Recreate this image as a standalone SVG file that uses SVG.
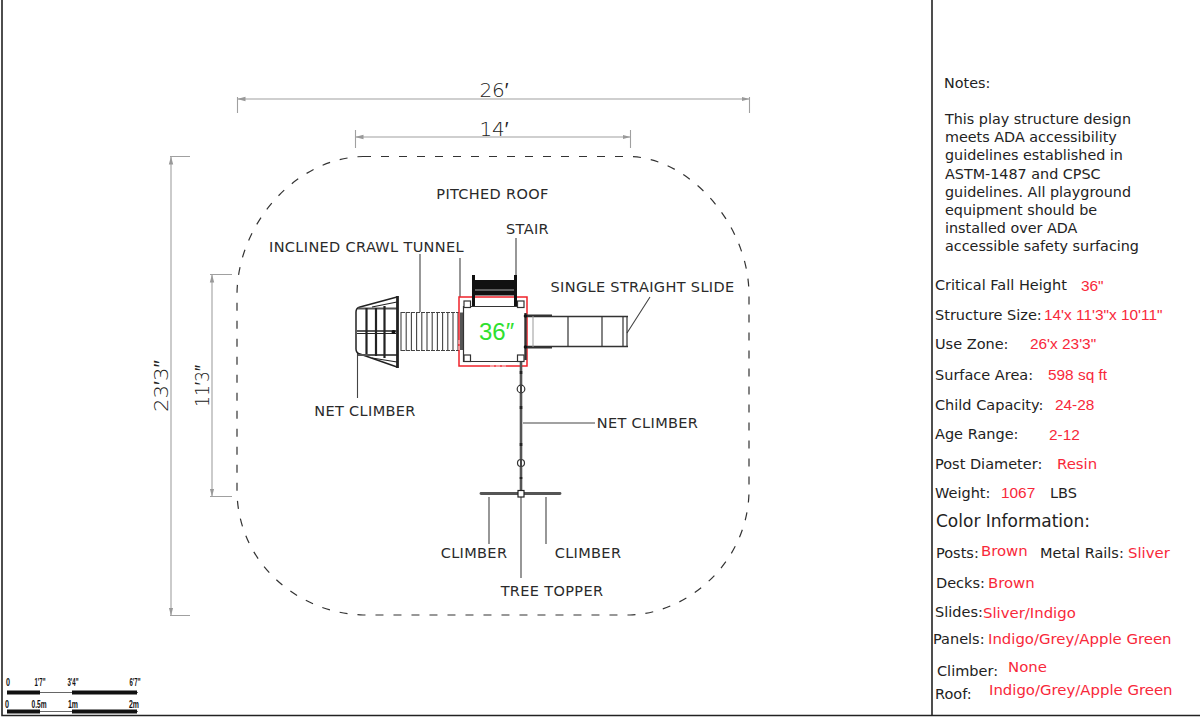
<svg xmlns="http://www.w3.org/2000/svg" width="1200" height="718" viewBox="0 0 1200 718">
<style>
text{fill:#222}
.c{font-family:"DejaVu Sans",sans-serif;font-size:14.500px;letter-spacing:0.350px;text-anchor:middle;fill:#2a2a2a}
.n{font-family:"DejaVu Sans",sans-serif;font-size:14.350px}
.s{font-family:"DejaVu Sans",sans-serif;font-size:14.500px}
text.r{font-family:"DejaVu Sans",sans-serif;font-size:14.900px;fill:#f8283a}
text.d{font-family:"Liberation Sans",sans-serif;font-size:15.400px;fill:#f8283a}
.dim{stroke:#a0a0a0;stroke-width:1.100;fill:none}
.dt{font-family:"DejaVu Sans",sans-serif;font-size:20px;fill:#222;text-anchor:middle;font-weight:200}
.sc{font-family:"Liberation Sans",sans-serif;font-size:10px;font-weight:bold;fill:#111;text-anchor:middle}
</style>
<defs>
<marker id="a" viewBox="0 0 8 6" refX="8" refY="3" markerWidth="8" markerHeight="6" orient="auto-start-reverse" markerUnits="userSpaceOnUse"><path d="M0 0.800L8 3L0 5.200Z" fill="#999"/></marker>
</defs>
<rect width="1200" height="718" fill="#fff"/>
<g id="frame" fill="none" stroke="#222">
<path d="M2 0V715.500H1200" stroke-width="1.600"/>
<path d="M932 0V715.500" stroke-width="1.600"/>
</g>
<g id="use-zone">
<path d="M363 156.500H630C690 158 749 225 749 295V490C749 560 690 613 630 615H363C295 613 237 560 237 490V295C237 225 295 158 363 156.500Z" fill="none" stroke="#333" stroke-width="1.200" stroke-dasharray="8 10"/>
</g>
<g id="dimensions">
<path class="dim" d="M237.500 97V113M749.500 97V113M355.500 130V148M630.500 130V148M170 156.500H190M170 615.500H190M210 274.500H232M210 496.500H232"/>
<path class="dim" d="M237.500 99H749.500" marker-start="url(#a)" marker-end="url(#a)"/>
<path class="dim" d="M355.500 137H630.500" marker-start="url(#a)" marker-end="url(#a)"/>
<path class="dim" d="M171 156.500V615.500" marker-start="url(#a)" marker-end="url(#a)"/>
<path class="dim" d="M212 274.500V496.500" marker-start="url(#a)" marker-end="url(#a)"/>
<text class="dt" x="494" y="96.500">26′</text>
<text class="dt" x="494" y="135.500">14′</text>
<text class="dt" transform="translate(168 386) rotate(-90)" textLength="52" lengthAdjust="spacingAndGlyphs">23′3″</text>
<text class="dt" transform="translate(209 386) rotate(-90)" textLength="42" lengthAdjust="spacingAndGlyphs">11′3″</text>
</g>
<g id="connectors" fill="none" stroke="#444" stroke-width="1.100">
<path d="M420 254V312M460 258V297M516 238V276M650 297L627 333M357.500 353V398M523 423H595M489 497V544M546 497V544M521 497V578"/>
</g>
<g id="net-climber-left" fill="none" stroke="#222">
<path d="M397 297L360 307Q356 308 356 312V349Q356 353 360 354L397 367" stroke-width="1.500"/>
<path d="M358 308.500H397M358 355H397" stroke-width="2.200" stroke="#555"/>
<path d="M372 307L397 302M372 358L397 362" stroke-width="1.200"/>
<path d="M397.500 296V368" stroke-width="2.800"/>
<path d="M366.500 308V354M376 308V356M384.500 306V358" stroke-width="2.200"/>
<path d="M357 331H396" stroke-width="1.400"/>
<path d="M357 333.500H396" stroke-width="1.200"/>
<circle cx="393.500" cy="332" r="2" fill="#111" stroke="none"/>
</g>
<g id="crawl-tunnel" fill="none" stroke="#444" stroke-width="1.100">
<path d="M401 312.500H459M401 350.500H459" stroke-dasharray="4 1" stroke-width="1.200"/>
<path d="M401 312V351M406.200 312V351M411.400 312V351M416.600 312V351M421.800 312V351M427 312V351M432.200 312V351M437.400 312V351M442.600 312V351M447.800 312V351M453 312V351M458 312V351"/>
</g>
<g id="deck">
<path d="M461.500 312.500V350" stroke="#555" stroke-width="3" fill="none"/>
<path d="M466 306.500H523M463.500 306V362M466 361.500H523" fill="none" stroke="#333" stroke-width="1.200"/>
<g fill="#fff" stroke="#333" stroke-width="1.200">
<rect x="464" y="301" width="6.500" height="6.500"/><rect x="517.500" y="301" width="6.500" height="6.500"/><rect x="464" y="355" width="6.500" height="6.500"/><rect x="517.500" y="355" width="6.500" height="6.500"/>
</g>
<path d="M459 297H527V366H459Z" fill="none" stroke="#f0222a" stroke-width="1.500"/>
<path d="M490 366H507" stroke="#fff" stroke-width="0.800" stroke-dasharray="4 2" fill="none"/>
<path d="M459 340V352" stroke="#fff" stroke-width="0.800" stroke-dasharray="4 2" fill="none"/>
<text id="deck-height" x="479" y="340" style="font-size:24px;fill:#2fe02f;font-family:'Liberation Sans',sans-serif">36″</text>
</g>
<g id="stair" fill="none" stroke="#111">
<rect x="473" y="280" width="43" height="15.500" fill="#111" stroke="none"/>
<path d="M473 290H516" stroke="#aaa" stroke-width="1"/>
<path d="M473.500 275V306M515.500 275V306" stroke-width="3"/>
</g>
<g id="slide" fill="none" stroke="#333">
<path d="M527 316.500H628M527 346.500H628" stroke-width="1.400"/>
<path d="M527 315.500H552M527 347.500H552" stroke-width="2"/>
<path d="M533 316V347" stroke="#999" stroke-width="1"/>
<path d="M568 316V347M602 316V347M623 316V347M627 316V347" stroke-width="1.200"/>
<path d="M525.500 313V360" stroke-width="2.400"/>
<circle cx="525.500" cy="316" r="1.800" fill="#111" stroke="none"/><circle cx="525.500" cy="347" r="1.800" fill="#111" stroke="none"/>
</g>
<g id="net-climber-main" fill="none" stroke="#333">
<path d="M521 362V494" stroke="#555" stroke-width="2.600"/>
<path d="M521 371V374M521 406V409M521 443V446M521 477V479" stroke="#222" stroke-width="2.600"/>
<circle cx="521" cy="389" r="3.800" stroke-width="1.200" fill="#fff"/>
<path d="M521 385V393" stroke="#444" stroke-width="2"/>
<circle cx="521" cy="463" r="3.500" stroke-width="1.200" fill="#fff"/>
<path d="M521 459.500V466.500" stroke="#444" stroke-width="2"/>
<path d="M481 493.500H560" stroke="#555" stroke-width="2.800" stroke-linecap="round"/>
<rect x="518" y="490.500" width="6" height="6.500" fill="#fff" stroke="#222" stroke-width="1.200"/>
</g>
<g id="labels">
<text class="c" x="492.500" y="199">PITCHED ROOF</text>
<text class="c" x="527.500" y="234">STAIR</text>
<text class="c" x="366.500" y="252">INCLINED CRAWL TUNNEL</text>
<text class="c" x="642.500" y="292">SINGLE STRAIGHT SLIDE</text>
<text class="c" x="365" y="416">NET CLIMBER</text>
<text class="c" x="647.500" y="428">NET CLIMBER</text>
<text class="c" x="474" y="558">CLIMBER</text>
<text class="c" x="588" y="558">CLIMBER</text>
<text class="c" x="552" y="596">TREE TOPPER</text>
</g>
<g id="scale">
<path d="M7 692.500H138M7 711.500H138" stroke="#666" stroke-width="1"/>
<path d="M7 692.500H40M72 692.500H137M7 711.500H40M72 711.500H137" stroke="#111" stroke-width="4"/>
<text class="sc" x="8" y="686" textLength="4" lengthAdjust="spacingAndGlyphs">0</text><text class="sc" x="40" y="686" textLength="11" lengthAdjust="spacingAndGlyphs">1'7"</text><text class="sc" x="73" y="686" textLength="11" lengthAdjust="spacingAndGlyphs">3'4"</text><text class="sc" x="135" y="686" textLength="11" lengthAdjust="spacingAndGlyphs">6'7"</text>
<text class="sc" x="7" y="708" textLength="4" lengthAdjust="spacingAndGlyphs">0</text><text class="sc" x="39" y="708" textLength="15" lengthAdjust="spacingAndGlyphs">0.5m</text><text class="sc" x="73" y="708" textLength="10" lengthAdjust="spacingAndGlyphs">1m</text><text class="sc" x="134" y="708" textLength="10" lengthAdjust="spacingAndGlyphs">2m</text>
</g>
<g id="notes">
<text class="n" x="944" y="88">Notes:</text>
<text class="n" x="945" y="124">This play structure design</text>
<text class="n" x="945" y="142">meets ADA accessibility</text>
<text class="n" x="945" y="160">guidelines established in</text>
<text class="n" x="945" y="179">ASTM-1487 and CPSC</text>
<text class="n" x="945" y="197">guidelines. All playground</text>
<text class="n" x="945" y="215">equipment should be</text>
<text class="n" x="945" y="233">installed over ADA</text>
<text class="n" x="945" y="251">accessible safety surfacing</text>
</g>
<g id="specs">
<text class="s" x="935" y="290">Critical Fall Height</text><text class="d" x="1081" y="291">36"</text>
<text class="s" x="935" y="320">Structure Size:</text><text class="d" x="1044" y="320">14'x 11'3"x 10'11"</text>
<text class="s" x="935" y="349">Use Zone:</text><text class="d" x="1030" y="349">26'x 23'3"</text>
<text class="s" x="935" y="380">Surface Area:</text><text class="d" x="1048" y="380">598 sq ft</text>
<text class="s" x="935" y="410">Child Capacity:</text><text class="d" x="1055" y="410">24-28</text>
<text class="s" x="935" y="439">Age Range:</text><text class="d" x="1049" y="440">2-12</text>
<text class="s" x="935" y="469">Post Diameter:</text><text class="r" x="1057" y="469">Resin</text>
<text class="s" x="935" y="498">Weight:</text><text class="d" x="1001" y="498">1067</text><text class="s" x="1050" y="498">LBS</text>
<text class="s" x="936" y="527" style="font-size:17px">Color Information:</text>
<text class="s" x="936" y="558">Posts:</text><text class="r" x="981" y="556">Brown</text><text class="s" x="1040" y="558">Metal Rails:</text><text class="r" x="1128" y="558">Sliver</text>
<text class="s" x="936" y="588">Decks:</text><text class="r" x="988" y="588">Brown</text>
<text class="s" x="935" y="617">Slides:</text><text class="r" x="983" y="618">Sliver/Indigo</text>
<text class="s" x="933" y="644">Panels:</text><text class="r" x="988" y="644">Indigo/Grey/Apple Green</text>
<text class="s" x="937" y="676">Climber:</text><text class="r" x="1008" y="672">None</text>
<text class="s" x="935" y="699">Roof:</text><text class="r" x="989" y="695">Indigo/Grey/Apple Green</text>
</g>
</svg>
